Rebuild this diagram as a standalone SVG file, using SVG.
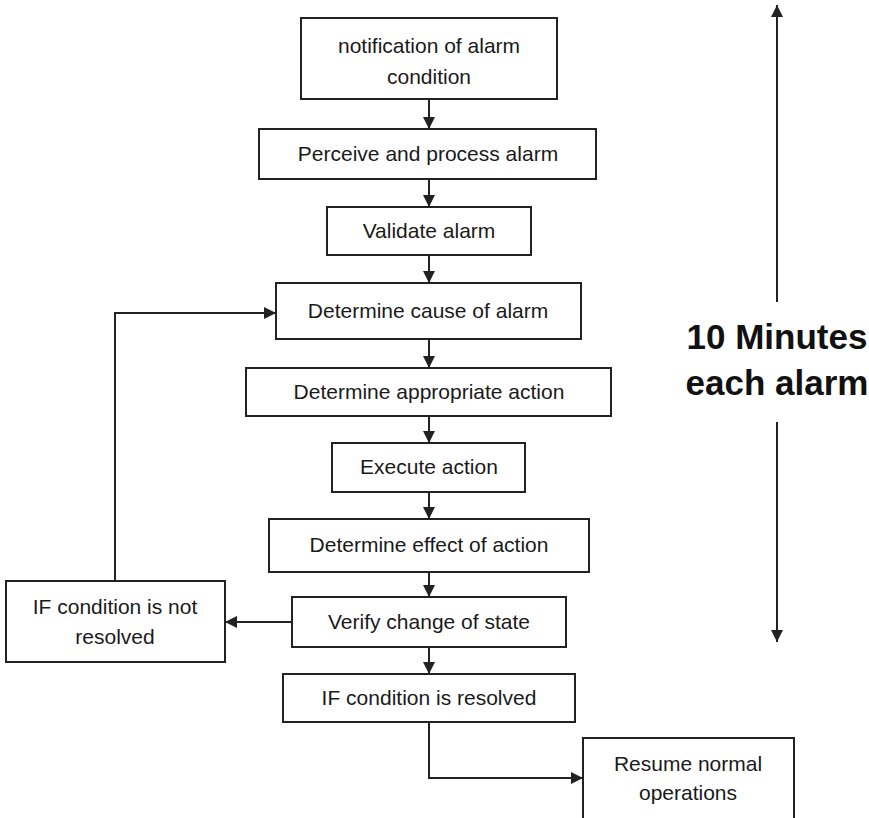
<svg xmlns="http://www.w3.org/2000/svg" width="869" height="818" viewBox="0 0 869 818">
<style>
.box{fill:#fff;stroke:#222;stroke-width:2}
.t{font-family:"Liberation Sans",Arial,sans-serif;font-size:21px;fill:#1a1a1a;text-anchor:middle}
.big{font-family:"Liberation Sans",Arial,sans-serif;font-size:35px;font-weight:bold;fill:#111;text-anchor:middle}
.c{fill:none;stroke:#222;stroke-width:2}
</style>
<defs>
<marker id="ah" markerUnits="userSpaceOnUse" markerWidth="12" markerHeight="12" viewBox="0 0 10 10" refX="10" refY="5" orient="auto">
<path d="M0,0 L10,5 L0,10 z" fill="#222"/>
</marker>
</defs>
<rect width="869" height="818" fill="#fff"/>
<g id="n1"><rect class="box" x="301" y="18" width="256" height="81"/><text class="t" x="429" y="53">notification of alarm</text><text class="t" x="429" y="84">condition</text></g>
<g id="n2"><rect class="box" x="259" y="129" width="337" height="50"/><text class="t" x="428" y="161">Perceive and process alarm</text></g>
<g id="n3"><rect class="box" x="327" y="207" width="204" height="48"/><text class="t" x="429" y="238">Validate alarm</text></g>
<g id="n4"><rect class="box" x="276" y="283" width="305" height="56"/><text class="t" x="428" y="318">Determine cause of alarm</text></g>
<g id="n5"><rect class="box" x="246" y="368" width="365" height="48"/><text class="t" x="429" y="399">Determine appropriate action</text></g>
<g id="n6"><rect class="box" x="332" y="443" width="193" height="49"/><text class="t" x="429" y="474">Execute action</text></g>
<g id="n7"><rect class="box" x="269" y="519" width="320" height="53"/><text class="t" x="429" y="552">Determine effect of action</text></g>
<g id="n8"><rect class="box" x="292" y="597" width="274" height="50"/><text class="t" x="429" y="629">Verify change of state</text></g>
<g id="n9"><rect class="box" x="283" y="674" width="292" height="48"/><text class="t" x="429" y="705">IF condition is resolved</text></g>
<g id="n10"><rect class="box" x="6" y="581" width="219" height="81"/><text class="t" x="115" y="614">IF condition is not</text><text class="t" x="115" y="644">resolved</text></g>
<g id="n11"><rect class="box" x="583" y="738" width="211" height="84"/><text class="t" x="688" y="771">Resume normal</text><text class="t" x="688" y="800">operations</text></g>
<g id="n12"><text class="big" x="777" y="349">10 Minutes</text><text class="big" x="777" y="395">each alarm</text></g>
<g id="connectors">
<path class="c" d="M429,99 V129" marker-end="url(#ah)"/>
<path class="c" d="M429,179 V207" marker-end="url(#ah)"/>
<path class="c" d="M429,255 V283" marker-end="url(#ah)"/>
<path class="c" d="M429,339 V368" marker-end="url(#ah)"/>
<path class="c" d="M429,416 V443" marker-end="url(#ah)"/>
<path class="c" d="M429,492 V519" marker-end="url(#ah)"/>
<path class="c" d="M429,572 V597" marker-end="url(#ah)"/>
<path class="c" d="M429,647 V674" marker-end="url(#ah)"/>
<path class="c" d="M292,622 H225" marker-end="url(#ah)"/>
<path class="c" d="M115,581 V313 H276" marker-end="url(#ah)"/>
<path class="c" d="M429,722 V778 H583" marker-end="url(#ah)"/>
<path class="c" d="M777,302 V5" marker-end="url(#ah)"/>
<path class="c" d="M777,422 V642" marker-end="url(#ah)"/>
</g>
</svg>
